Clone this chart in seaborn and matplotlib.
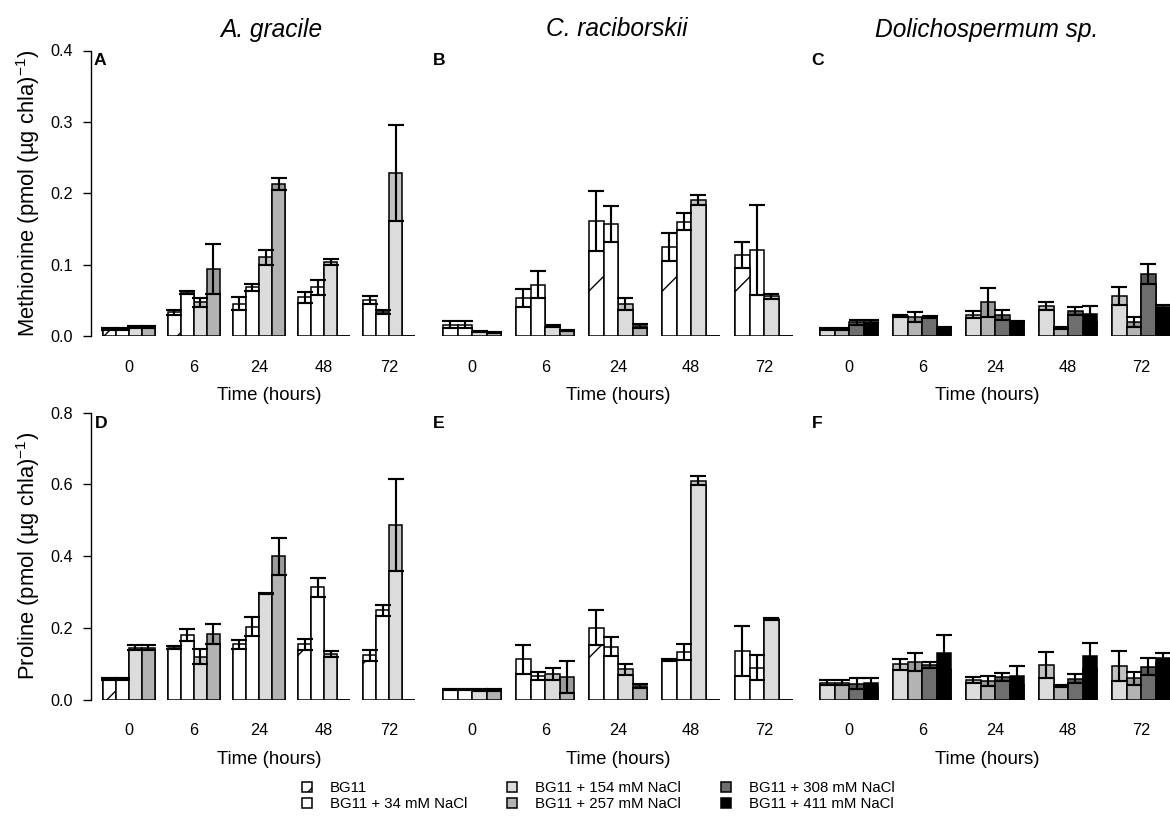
import numpy as np
import pandas as pd
import matplotlib
matplotlib.use("Agg")
import matplotlib.pyplot as plt
from matplotlib.patches import Patch
import seaborn as sns

# ---------------- data ----------------
times = ["0", "6", "24", "48", "72"]
treat_ac = ["BG11", "BG11 + 34 mM NaCl", "BG11 + 154 mM NaCl", "BG11 + 257 mM NaCl"]
treat_dol = ["BG11 + 154 mM NaCl", "BG11 + 257 mM NaCl", "BG11 + 308 mM NaCl", "BG11 + 411 mM NaCl"]
species = ["A. gracile", "C. raciborskii", "Dolichospermum sp."]

# Methionine, A. gracile (rows follow treat_ac)
met_grac_mean = [[0.010, 0.033, 0.045, 0.054, 0.051],
                 [0.010, 0.061, 0.068, 0.068, 0.034],
                 [0.013, 0.047, 0.110, 0.104, 0.228],
                 [0.013, 0.094, 0.213, 0.0, 0.0]]
met_grac_se = [[0.001, 0.003, 0.009, 0.008, 0.0055],
               [0.001, 0.0015, 0.005, 0.0105, 0.003],
               [0.0015, 0.0058, 0.011, 0.004, 0.067],
               [0.0015, 0.035, 0.008, 0.0, 0.0]]

# Methionine, C. raciborskii
met_rac_mean = [[0.016, 0.053, 0.161, 0.125, 0.113],
                [0.016, 0.072, 0.157, 0.160, 0.121],
                [0.006, 0.014, 0.045, 0.191, 0.056],
                [0.005, 0.008, 0.0145, 0.0, 0.0]]
met_rac_se = [[0.005, 0.0124, 0.0415, 0.020, 0.018],
              [0.005, 0.019, 0.0256, 0.0117, 0.063],
              [0.001, 0.0015, 0.0089, 0.007, 0.0035],
              [0.001, 0.0005, 0.003, 0.0, 0.0]]

# Methionine, Dolichospermum sp. (rows follow treat_dol)
met_dol_mean = [[0.010, 0.028, 0.030, 0.042, 0.056],
                [0.010, 0.027, 0.047, 0.011, 0.019],
                [0.019, 0.027, 0.030, 0.035, 0.087],
                [0.020, 0.011, 0.020, 0.031, 0.041]]
met_dol_se = [[0.0015, 0.002, 0.0047, 0.0054, 0.0124],
              [0.0015, 0.007, 0.020, 0.0012, 0.007],
              [0.004, 0.0015, 0.007, 0.005, 0.0135],
              [0.002, 0.001, 0.001, 0.0116, 0.002]]

# Proline, A. gracile
pro_grac_mean = [[0.056, 0.145, 0.1535, 0.154, 0.123],
                 [0.056, 0.180, 0.203, 0.313, 0.249],
                 [0.145, 0.119, 0.296, 0.127, 0.487],
                 [0.145, 0.182, 0.399, 0.0, 0.0]]
pro_grac_se = [[0.003, 0.005, 0.0126, 0.015, 0.015],
               [0.003, 0.0167, 0.026, 0.026, 0.0153],
               [0.007, 0.021, 0.002, 0.0084, 0.128],
               [0.007, 0.028, 0.052, 0.0, 0.0]]

# Proline, C. raciborskii
pro_rac_mean = [[0.028, 0.112, 0.200, 0.110, 0.136],
                [0.028, 0.065, 0.147, 0.132, 0.088],
                [0.027, 0.071, 0.084, 0.610, 0.224],
                [0.027, 0.063, 0.037, 0.0, 0.0]]
pro_rac_se = [[0.002, 0.0405, 0.049, 0.002, 0.070],
              [0.002, 0.011, 0.027, 0.022, 0.035],
              [0.002, 0.017, 0.015, 0.0126, 0.002],
              [0.002, 0.044, 0.006, 0.0, 0.0]]

# Proline, Dolichospermum sp.
pro_dol_mean = [[0.0465, 0.0986, 0.054, 0.0958, 0.094],
                [0.0465, 0.105, 0.051, 0.037, 0.0586],
                [0.044, 0.096, 0.063, 0.0577, 0.092],
                [0.046, 0.131, 0.066, 0.121, 0.116]]
pro_dol_se = [[0.007, 0.0153, 0.0075, 0.037, 0.042],
              [0.007, 0.025, 0.014, 0.003, 0.0186],
              [0.015, 0.0093, 0.012, 0.013, 0.024],
              [0.014, 0.0488, 0.0265, 0.037, 0.015]]

# ---------------- styles ----------------
fill_col = {"BG11": "#FFFFFF", "BG11 + 34 mM NaCl": "#FFFFFF",
            "BG11 + 154 mM NaCl": "#DCDCDC", "BG11 + 257 mM NaCl": "#B3B3B3",
            "BG11 + 308 mM NaCl": "#6E6E6E", "BG11 + 411 mM NaCl": "#000000"}
top_col = {"BG11": "#FFFFFF", "BG11 + 34 mM NaCl": "#FFFFFF",
           "BG11 + 154 mM NaCl": "#C2C2C2", "BG11 + 257 mM NaCl": "#9C9C9C",
           "BG11 + 308 mM NaCl": "#595959", "BG11 + 411 mM NaCl": "#000000"}
legend_order = ["BG11", "BG11 + 34 mM NaCl", "BG11 + 154 mM NaCl",
                "BG11 + 257 mM NaCl", "BG11 + 308 mM NaCl", "BG11 + 411 mM NaCl"]

sns.set_style("white")
plt.rcParams['font.family'] = ['Liberation Sans', 'DejaVu Sans']
plt.rcParams['mathtext.fontset'] = 'custom'
plt.rcParams['mathtext.rm'] = 'Liberation Sans'
plt.rcParams['mathtext.it'] = 'Liberation Sans:italic'
plt.rcParams['mathtext.bf'] = 'Liberation Sans:bold'
plt.rcParams['hatch.linewidth'] = 0.45
plt.rcParams['hatch.color'] = 'black'
plt.rcParams['text.color'] = 'black'
plt.rcParams['axes.labelcolor'] = 'black'
plt.rcParams['xtick.color'] = 'black'
plt.rcParams['ytick.color'] = 'black'

W, H, DPI = 1170, 821, 220
PX = DPI / 72.0  # pixels per point
fig = plt.figure(figsize=(W / DPI, H / DPI), dpi=DPI)
fig.patch.set_facecolor("white")

def fx(px):
    return px / W

def fy(py):
    return 1 - py / H

LW = 0.5
EW = 0.7
CAP = 2.6
XLIM = (-0.592, 4.592)

col_left = [90.5, 429.0, 806.0]
col_width = [337.0, 378.4, 378.4]
row_top = [50.5, 412.7]
row_bot = [336.0, 699.5]
row_ymax = [0.4, 0.8]


def draw_panel(ax, mean, se, treats):
    rows = []
    for j, t in enumerate(treats):
        for i, tm in enumerate(times):
            rows.append({"time": tm, "treatment": t, "mean": mean[j][i],
                         "low": mean[j][i] - se[j][i], "se": se[j][i]})
    df = pd.DataFrame(rows)
    n0 = len(ax.containers)
    sns.barplot(data=df, x="time", y="mean", hue="treatment", order=times,
                hue_order=treats, palette=top_col, saturation=1, width=0.8,
                gap=0, errorbar=None, edgecolor="black", linewidth=LW,
                legend=False, ax=ax)
    top_conts = sorted(ax.containers[n0:], key=lambda c: c[0].get_x())
    n1 = len(ax.containers)
    sns.barplot(data=df, x="time", y="low", hue="treatment", order=times,
                hue_order=treats, palette=fill_col, saturation=1, width=0.8,
                gap=0, errorbar=None, edgecolor="black", linewidth=LW,
                legend=False, ax=ax)
    low_conts = sorted(ax.containers[n1:], key=lambda c: c[0].get_x())
    for j, t in enumerate(treats):
        if t == "BG11":
            for b in low_conts[j]:
                b.set_hatch("/")
    for j, t in enumerate(treats):
        xs, ys, es = [], [], []
        for i, b in enumerate(top_conts[j]):
            if mean[j][i] > 0:
                xs.append(b.get_x() + b.get_width() / 2)
                ys.append(mean[j][i])
                es.append(se[j][i])
        ax.errorbar(xs, ys, yerr=es, fmt="none", ecolor="black",
                    elinewidth=EW, capsize=CAP, capthick=EW, zorder=5)


panels = [
    (0, 0, met_grac_mean, met_grac_se, treat_ac, "A"),
    (0, 1, met_rac_mean, met_rac_se, treat_ac, "B"),
    (0, 2, met_dol_mean, met_dol_se, treat_dol, "C"),
    (1, 0, pro_grac_mean, pro_grac_se, treat_ac, "D"),
    (1, 1, pro_rac_mean, pro_rac_se, treat_ac, "E"),
    (1, 2, pro_dol_mean, pro_dol_se, treat_dol, "F"),
]

letter_pos = {"A": (94, 65), "B": (433, 65), "C": (811, 65),
              "D": (95, 428), "E": (433, 428), "F": (812, 428)}
label_x = [269, 618, 987]
title_x = [271, 617, 987]

for r, c, mean, se, treats, letter in panels:
    left = col_left[c]
    w = col_width[c]
    top = row_top[r]
    bot = row_bot[r]
    ax = fig.add_axes([fx(left), fy(bot), w / W, (bot - top) / H])
    ax.patch.set_visible(False)
    draw_panel(ax, mean, se, treats)
    ax.set_xlim(*XLIM)
    ax.set_ylim(0, row_ymax[r])
    ax.set_xlabel("")
    ax.set_ylabel("")
    for s in ["top", "right", "bottom"]:
        ax.spines[s].set_visible(False)
    ax.set_xticks(range(len(times)))
    ax.set_xticklabels(times)
    ax.tick_params(axis="x", length=0, pad=23.6 / PX, labelsize=16.3 / PX,
                   colors="black")
    if c == 0:
        ax.spines["left"].set_visible(True)
        ax.spines["left"].set_bounds(0, row_ymax[r])
        ax.spines["left"].set_linewidth(0.45)
        ax.spines["left"].set_color("black")
        step = row_ymax[r] / 4
        ticks = [k * step for k in range(5)]
        ax.set_yticks(ticks)
        ax.set_yticklabels([f"{t:.1f}" for t in ticks])
        ax.tick_params(axis="y", left=True, length=8 / PX, width=0.45,
                       pad=9.7 / PX, labelsize=16.3 / PX, colors="black")
    else:
        ax.spines["left"].set_visible(False)
        ax.set_yticks([])
    # panel letter
    lx, ly = letter_pos[letter]
    fig.text(fx(lx), fy(ly), letter, fontsize=17.5 / PX, fontweight="bold",
             ha="left", va="baseline", color="black")
    # x label
    fig.text(fx(label_x[c]), fy(bot + 64.5), "Time (hours)", fontsize=18.6 / PX,
             ha="center", va="baseline", color="black")

# species titles
for c, sp in enumerate(species):
    fig.text(fx(title_x[c]), fy(36.5), sp, fontsize=24.5 / PX, style="italic",
             ha="center", va="baseline", color="black")

# y labels
fig.text(fx(28), fy((row_top[0] + row_bot[0]) / 2),
         "Methionine (pmol (µg chla)$^{-1}$)",
         fontsize=22 / PX, rotation=90, ha="center", va="center", color="black")
fig.text(fx(28), fy((row_top[1] + row_bot[1]) / 2),
         "Proline (pmol (µg chla)$^{-1}$)",
         fontsize=22 / PX, rotation=90, ha="center", va="center", color="black")

# legend
handles = []
for t in legend_order:
    handles.append(Patch(facecolor=fill_col[t], edgecolor="black", linewidth=LW,
                         hatch="////" if t == "BG11" else None))
leg = fig.legend(handles, legend_order, ncol=3, loc="center",
                 bbox_to_anchor=(fx(598.5), fy(796)), frameon=False,
                 fontsize=15 / PX, handlelength=0.67, handleheight=0.67,
                 handletextpad=1.2, columnspacing=2.67, labelspacing=0.15,
                 borderpad=0, borderaxespad=0)
for txt in leg.get_texts():
    txt.set_color("black")

fig.savefig("out.png", dpi=DPI, facecolor="white")
